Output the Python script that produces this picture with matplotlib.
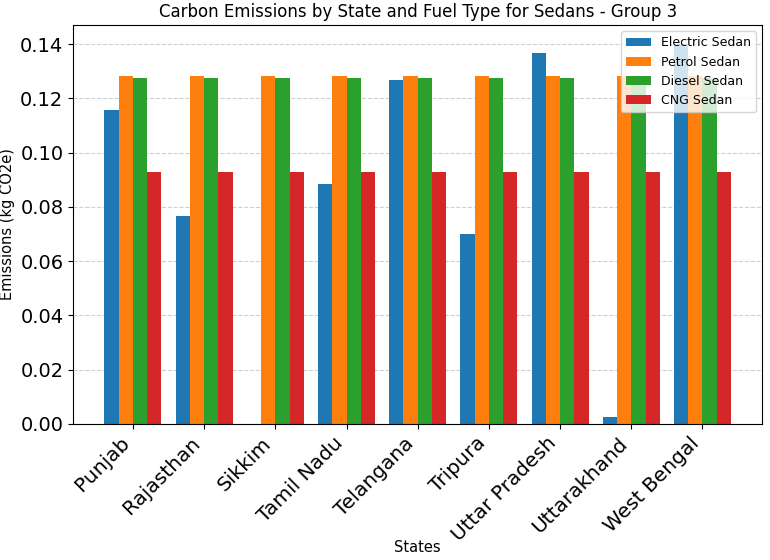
import numpy as np
import matplotlib.pyplot as plt

states = ['Punjab', 'Rajasthan', 'Sikkim', 'Tamil Nadu', 'Telangana',
          'Tripura', 'Uttar Pradesh', 'Uttarakhand', 'West Bengal']
electric = [0.1159, 0.0766, 0.0, 0.0884, 0.1268, 0.0700, 0.1369, 0.0026, 0.1400]
petrol = [0.1283] * 9
diesel = [0.1277] * 9
cng = [0.0927] * 9

series = [('Electric Sedan', electric), ('Petrol Sedan', petrol),
          ('Diesel Sedan', diesel), ('CNG Sedan', cng)]

fig, ax = plt.subplots(figsize=(7.7, 5.6), dpi=100)
x = np.arange(len(states))
width = 0.2
for i, (name, vals) in enumerate(series):
    ax.bar(x + (i - 1.5) * width, vals, width, label=name)

ax.set_title('Carbon Emissions by State and Fuel Type for Sedans - Group 3', fontsize=12)
ax.set_xlabel('States', fontsize=10.5, labelpad=-4)
ax.set_ylabel('Emissions (kg CO2e)', fontsize=10.5)
ax.yaxis.set_label_coords(-0.084, 0.5)
ax.set_xticks(x)
ax.set_xticklabels(states, rotation=45, ha='right', fontsize=14.5)
ax.tick_params(axis='y', labelsize=14)
ax.grid(axis='y', linestyle='--', alpha=0.6)
ax.set_axisbelow(True)
ax.legend(loc='upper right', fontsize=9)

fig.subplots_adjust(left=0.095, right=0.99, top=0.955, bottom=0.243)
plt.savefig('out.png')
